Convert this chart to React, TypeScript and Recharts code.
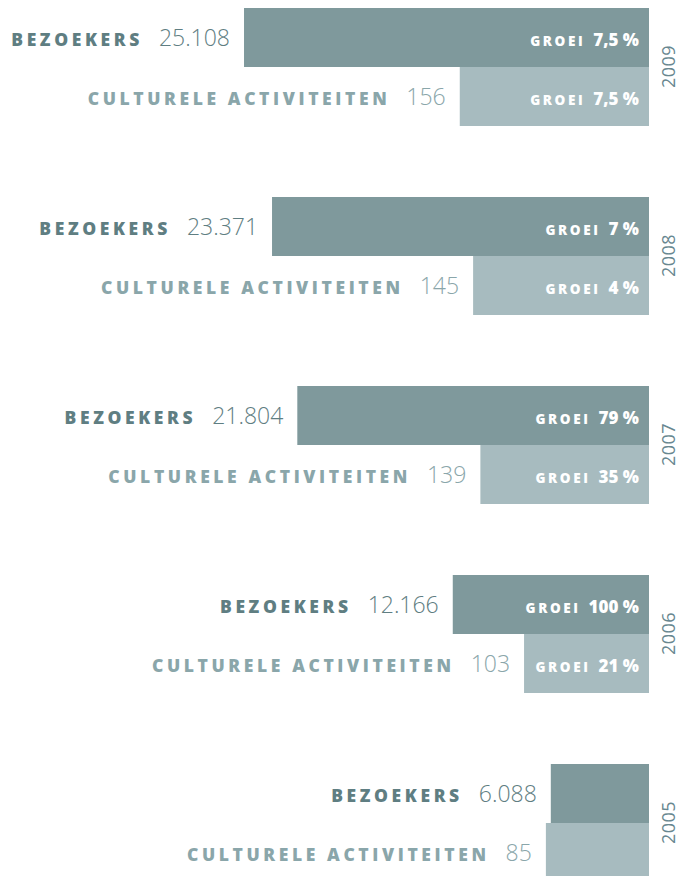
import { BarChart, Bar, XAxis, YAxis, LabelList } from 'recharts';

const years = ['2009', '2008', '2007', '2006', '2005'];
const bezoekers = [25108, 23371, 21804, 12166, 6088];
const activiteiten = [156, 145, 139, 103, 85];
const groeiBezoekers = ['7,5', '7', '79', '100', ''];
const groeiActiviteiten = ['7,5', '4', '35', '21', ''];

const data = years.map((year, i) => ({
  year,
  bezoekers: bezoekers[i],
  activiteiten: activiteiten[i],
}));

const DARK_BAR = '#7f999c';
const LIGHT_BAR = '#a7bbbf';
const DARK_TEXT = '#5f7e82';
const LIGHT_TEXT = '#8aa6aa';

const fmt = (v: number) => String(v).replace(/\B(?=(\d{3})+(?!\d))/g, '.');

const makeLabel = (name: string, color: string, groei: string[]) => (props: any) => {
  const { x, y, width, height, index, value } = props;
  const left = Math.min(x, x + width);
  const right = Math.max(x, x + width);
  const cy = y + height / 2;
  const g = groei[index];
  return (
    <g fontFamily="'Open Sans', sans-serif">
      <text x={left - 14} y={cy + 8} textAnchor="end" fill={color}>
        <tspan fontWeight={800} fontSize={17.5} letterSpacing={3.6}>{name}</tspan>
        <tspan dx={16} fontWeight={300} fontSize={23}>{fmt(value)}</tspan>
      </text>
      {g && (
        <text x={right - 10} y={cy + 8} textAnchor="end" fill="#fff" fontWeight={800}>
          <tspan fontSize={13.5} letterSpacing={2.6}>GROEI</tspan>
          <tspan dx={8} fontSize={17}>{g} %</tspan>
        </text>
      )}
    </g>
  );
};

const YearTick = ({ x, y, payload }: any) => (
  <text
    transform={`translate(${x + 18},${y}) rotate(-90)`}
    textAnchor="middle"
    fontFamily="'Open Sans', sans-serif"
    fontWeight={400}
    fontSize={18}
    letterSpacing={0.5}
    fill="#688790"
  >
    {payload.value}
  </text>
);

export default function App() {
  return (
    <div style={{ position: 'absolute', left: 0, top: 0, width: 682, height: 876, overflow: 'hidden', background: '#fff' }}>
      <div style={{ position: 'absolute', left: 0, top: -28 }}>
        <BarChart
          layout="vertical"
          width={682}
          height={945}
          data={data}
          margin={{ top: 0, right: 0, bottom: 0, left: 0 }}
          barCategoryGap={36}
          barGap={0}
        >
          <XAxis xAxisId="b" type="number" domain={[0, 40236]} allowDataOverflow reversed hide />
          <XAxis xAxisId="c" type="number" domain={[0, 535]} allowDataOverflow reversed hide />
          <YAxis
            type="category"
            dataKey="year"
            orientation="right"
            width={33}
            axisLine={false}
            tickLine={false}
            tick={YearTick}
          />
          <Bar xAxisId="b" dataKey="bezoekers" fill={DARK_BAR} isAnimationActive={false}>
            <LabelList dataKey="bezoekers" content={makeLabel('BEZOEKERS', DARK_TEXT, groeiBezoekers)} />
          </Bar>
          <Bar xAxisId="c" dataKey="activiteiten" fill={LIGHT_BAR} isAnimationActive={false}>
            <LabelList dataKey="activiteiten" content={makeLabel('CULTURELE ACTIVITEITEN', LIGHT_TEXT, groeiActiviteiten)} />
          </Bar>
        </BarChart>
      </div>
    </div>
  );
}
